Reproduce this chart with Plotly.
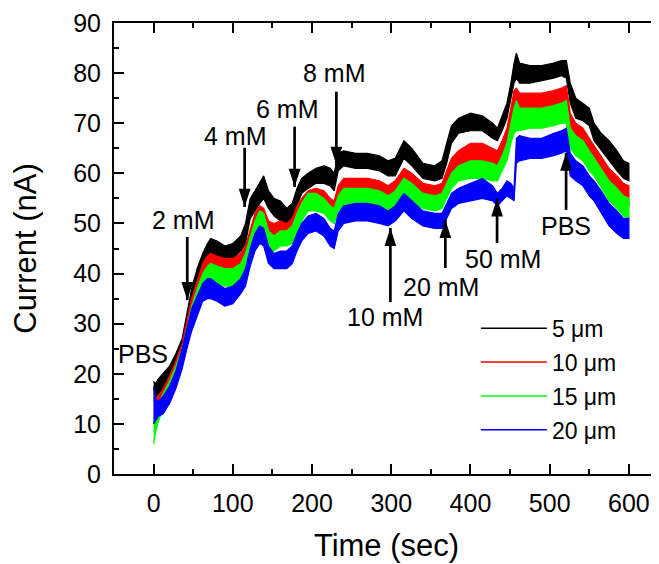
import plotly.graph_objects as go

# ---------------- data ----------------
time_s = [0, 2, 6, 12, 20, 28, 36, 42, 48, 55, 62, 68, 72, 80, 90, 100, 110, 116,
          122, 128, 134, 139, 145, 152, 160, 168, 175, 181, 187, 195, 205, 215, 223,
          228, 233, 240, 255, 270, 285, 296, 305, 316, 326, 340, 355, 364, 370, 376,
          385, 400, 415, 428, 434, 440, 446, 451, 455, 458, 462, 475, 490, 505, 515,
          521, 526, 533, 542, 550, 556, 565, 575, 585, 593, 600]

# 5 um (black): upper / lower edge of the noisy band
hi_5 = [18.5, 18, 19, 20, 21.5, 24, 27, 32, 37, 41, 44, 46, 47, 46.5, 45.5, 46, 47.5, 50,
        55, 56.5, 58, 59.5, 56.5, 55, 54.5, 53, 54, 57, 59, 60, 61, 61.5, 61,
        60, 64, 64.5, 64, 64, 63.5, 62.5, 63, 66.5, 65, 62, 61.5, 62.5, 66, 69.5,
        71, 72, 71.5, 70, 69, 71.5, 74, 78, 82, 84, 82, 81.5, 81.5, 82, 82.5,
        82.5, 78, 75, 74, 73, 70, 68, 66.5, 64.5, 62.5, 62]
lo_5 = [14.5, 15, 16, 17, 18.5, 20.5, 23, 27, 33, 37, 40.5, 42.5, 44, 43.5, 42.5, 43, 44.5, 46,
        51, 52.5, 54, 55, 53, 51.5, 50.5, 50, 51, 53.5, 56, 57, 58, 58, 57.5,
        56.5, 60.5, 61.5, 61, 61, 60.5, 59.5, 59.5, 63, 61.5, 59, 58.5, 59, 62, 66,
        68, 68.5, 68.5, 67, 66.5, 68.5, 71, 75, 78, 79, 78, 78, 78.5, 79, 79.5,
        79, 74, 71, 70.5, 69.5, 66.5, 64.5, 62.5, 60.5, 59, 58.5]

# 10 um (red)
hi_10 = [14, 14.5, 15.5, 17, 19.5, 22.5, 26, 30.5, 35, 38.5, 42, 43.5, 44, 43.5, 43, 43, 44, 45.5,
         49, 52, 53.5, 53, 50.5, 50, 50.5, 50, 51, 53.5, 55, 56.5, 57, 56.5, 55,
         54.5, 57.5, 59, 59, 59, 58.5, 57.5, 58.5, 61, 60, 58, 57.5, 58, 60.5, 63,
         64.5, 66, 66, 65, 64.5, 66.5, 69, 73, 76.5, 77, 76, 76, 76, 76.5, 77,
         77.5, 72, 70, 69, 67, 65.5, 63.5, 61, 59.5, 58, 57.5]
lo_10 = [10, 11, 13, 14.5, 16.5, 19.5, 22.5, 26.5, 31, 35, 38.5, 40.5, 41, 40.5, 40, 40, 41, 42,
         45.5, 48, 50, 50, 47, 46.5, 47.5, 47.5, 48, 50.5, 52, 53.5, 54, 53.5, 52,
         51.5, 54.5, 56, 56, 56, 55.5, 54, 55.5, 58, 56.5, 55, 54.5, 55, 57.5, 60,
         61.5, 62.5, 62.5, 62, 61.5, 63.5, 65.5, 69, 72, 72, 72, 72.5, 72.5, 73, 73.5,
         73.5, 68, 66.5, 65.5, 63.5, 62, 60, 57, 55.5, 54, 53.5]

# 15 um (green)
hi_15 = [11, 12, 14, 16, 18.5, 21.5, 25, 29, 33.5, 37, 40, 41.5, 42, 41.5, 41, 41, 42, 44,
         47.5, 50.5, 52.5, 52, 48.5, 47.5, 48.5, 48.5, 49.5, 52, 54, 56, 56, 55, 53.5,
         53, 55.5, 57, 57, 57, 56.5, 55.5, 56.5, 59, 58, 56, 55.5, 56, 58, 60,
         61.5, 62.5, 62.5, 62, 61.5, 63.5, 66, 70, 73, 74.5, 73, 73, 73, 73.5, 74,
         74.5, 69, 67.5, 66.5, 64.5, 63, 61, 58.5, 57, 55.5, 55]
lo_15 = [6, 8, 10.5, 13, 15.5, 18.5, 21.5, 25, 29.5, 33.5, 36.5, 38, 38.5, 38, 37.5, 37.5, 38.5, 40,
         43.5, 46.5, 48.5, 48.5, 45, 44.5, 45.5, 45.5, 46, 48.5, 50.5, 52.5, 52.5, 52, 50.5,
         50, 52.5, 53.5, 54, 54, 53.5, 52.5, 53.5, 56, 54.5, 53, 52.5, 53, 55, 57,
         58.5, 59, 59, 58.5, 58.5, 60.5, 62.5, 66, 68, 68.5, 68.5, 69, 69, 69.5, 70,
         70, 65, 63.5, 62.5, 60.5, 59.5, 57, 54.5, 53, 51.5, 51]

# 20 um (blue)
hi_20 = [17.5, 15, 14.5, 15.5, 17.5, 20.5, 25, 29, 33, 35.5, 38, 39, 39, 38, 37, 37.5, 39, 41,
         45, 48, 49.5, 49, 45.5, 44, 44.5, 44.5, 45.5, 48, 50, 51.5, 52, 51, 49,
         48.5, 52, 53.5, 54, 54, 53.5, 52.5, 53.5, 56, 54.5, 52.5, 52, 52, 54, 56,
         57, 58, 59, 57.5, 56, 57, 58.5, 58, 57, 67, 67.5, 67, 67, 68, 68.5,
         69, 64, 62.5, 61.5, 59.5, 58.5, 56.5, 54, 52.5, 51, 51]
lo_20 = [10, 10.5, 11.5, 12, 14, 17, 21, 25, 28.5, 31.5, 34.5, 35, 35, 34.5, 33.5, 34, 36, 37.5,
         41.5, 44.5, 46, 45.5, 42, 41, 41, 41, 42, 44.5, 46.5, 48, 48.5, 47.5, 45.5,
         45, 48.5, 50, 50.5, 50.5, 50, 49.5, 50.5, 52.5, 51, 49.5, 49, 49, 51, 53,
         54, 54.5, 55, 54.5, 53.5, 54.5, 55.5, 55, 54.5, 62, 62.5, 63, 63, 63.5, 64,
         64.5, 59.5, 58.5, 57.5, 55.5, 54.5, 52, 49.5, 48, 47, 47]

series_names = ["5 \u03bcm", "10 \u03bcm", "15 \u03bcm", "20 \u03bcm"]
series_colors = ["#000000", "#ff0000", "#00ff00", "#0000ff"]
series_hi = [hi_5, hi_10, hi_15, hi_20]
series_lo = [lo_5, lo_10, lo_15, lo_20]

# text labels of the additions
label_text = ["PBS", "2 mM", "4 mM", "6 mM", "8 mM", "10 mM", "20 mM", "50 mM", "PBS"]
label_t = [-13.6, 37.9, 103.8, 168.8, 228.2, 292.6, 363.3, 441.5, 521.1]
label_y = [23.9, 50.7, 67.5, 72.9, 80.0, 31.3, 37.3, 42.9, 49.5]

# arrows: time, tip current, tail current
arrow_t = [42.5, 114.9, 178.0, 230.7, 298.9, 368.3, 433.6, 520.7]
arrow_tip = [34.7, 53.3, 57.3, 61.7, 49.1, 50.7, 55.0, 64.1]
arrow_tail = [47.3, 65.1, 69.3, 76.3, 34.3, 41.1, 46.1, 52.7]

FONT = "Liberation Sans, Arial, sans-serif"

fig = go.Figure()

# noisy bands
for name, col, hi, lo in zip(series_names, series_colors, series_hi, series_lo):
    fig.add_trace(go.Scatter(
        x=time_s + time_s[::-1], y=hi + lo[::-1],
        mode="lines", fill="toself", fillcolor=col,
        line=dict(color=col, width=1.2), showlegend=False, hoverinfo="skip"))

# legend entries
for i, (name, col) in enumerate(zip(series_names, series_colors)):
    fig.add_trace(go.Scatter(
        x=[None], y=[None], mode="lines", name=name,
        line=dict(color=col, width=1.5), legendgroup="g%d" % i))

# arrow shafts
shaft_x, shaft_y = [], []
for t, tip, tail in zip(arrow_t, arrow_tip, arrow_tail):
    shaft_x += [t, t, None]
    shaft_y += [tail, tip, None]
fig.add_trace(go.Scatter(x=shaft_x, y=shaft_y, mode="lines",
                         line=dict(color="black", width=2.7),
                         showlegend=False, hoverinfo="skip"))
# arrow heads
fig.add_trace(go.Scatter(
    x=arrow_t, y=arrow_tip, mode="markers", showlegend=False, hoverinfo="skip",
    marker=dict(symbol="arrow", size=19, color="black",
                angle=[180 if tip < tail else 0 for tip, tail in zip(arrow_tip, arrow_tail)],
                line=dict(width=0))))

for txt, t, y in zip(label_text, label_t, label_y):
    fig.add_annotation(x=t, y=y, text=txt, showarrow=False,
                       xanchor="center", yanchor="middle",
                       font=dict(family=FONT, size=25, color="black"))

axis_common = dict(
    showline=True, linecolor="black", linewidth=2,
    ticks="inside", ticklen=10, tickwidth=2, tickcolor="black",
    showgrid=False, zeroline=False, automargin=False,
    tickfont=dict(family=FONT, size=25, color="black"),
    ticklabelstandoff=6,
)

fig.update_xaxes(
    range=[-50, 638], tick0=0, dtick=100, mirror="ticks",
    minor=dict(ticks="inside", ticklen=5, tickwidth=2, tickcolor="black", dtick=50, tick0=0),
    title=dict(text="Time (sec)", font=dict(family=FONT, size=31, color="black"), standoff=18),
    **axis_common)
fig.update_yaxes(
    range=[0, 90], tick0=0, dtick=10, mirror=False,
    minor=dict(ticks="inside", ticklen=5, tickwidth=2, tickcolor="black", dtick=5, tick0=0),
    title=dict(text="Current (nA)", font=dict(family=FONT, size=31, color="black"), standoff=28),
    **axis_common)

# the page body has an 8px margin, so the figure is drawn 8px smaller and offset
fig.update_layout(
    width=651, height=556,
    margin=dict(l=106, r=0, t=15, b=90),
    plot_bgcolor="white", paper_bgcolor="white",
    font=dict(family=FONT, color="black"),
    legend=dict(x=0.664, y=0.371, xanchor="left", yanchor="top",
                bgcolor="rgba(0,0,0,0)", font=dict(family=FONT, size=23, color="black"),
                traceorder="grouped", tracegroupgap=1, itemwidth=66),
    hovermode=False,
)

fig.write_html("out.html", config={"displayModeBar": False})
